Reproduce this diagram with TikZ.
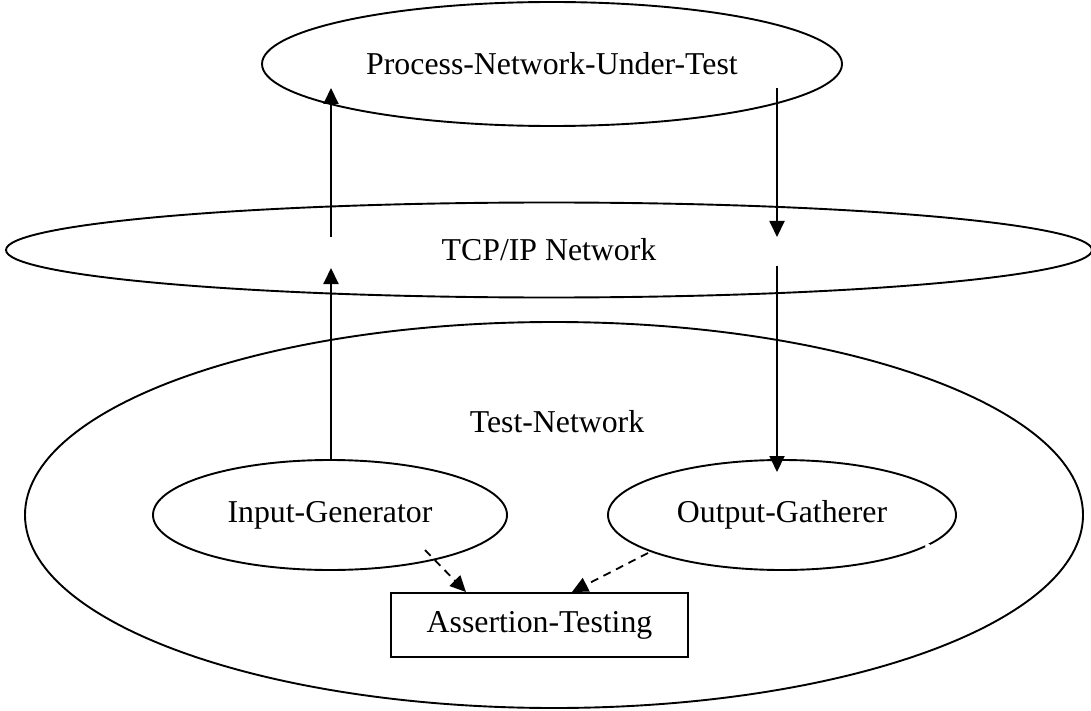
\documentclass[tikz,border=0pt]{standalone}
\usepackage{fontspec}
\setmainfont{Liberation Serif}
\usetikzlibrary{shapes.geometric,arrows.meta}
\begin{document}
\begin{tikzpicture}[x=1pt,y=-1pt,
  every node/.style={font=\fontsize{31.8}{36}\selectfont, inner sep=0pt},
  oval/.style={ellipse, draw, line width=1.9pt},
  flow/.style={line width=1.9pt, -{Triangle[length=16pt,width=15pt]}},
  dflow/.style={line width=1.8pt, dash pattern=on 8pt off 6pt, -{Triangle[length=16pt,width=15pt]}},
  ]
\useasboundingbox (0,0) rectangle (1091,711);
\node[oval, minimum width=580pt, minimum height=124pt] (punt) at (552,64) {Process-Network-Under-Test};
\node[oval, minimum width=1086pt, minimum height=95pt] (tcp) at (549,250) {TCP/IP Network};
\node[oval, minimum width=1058pt, minimum height=386pt] (tn) at (554,515) {};
\node (tnlabel) at (557,422) {Test-Network};
\node[oval, minimum width=354pt, minimum height=110pt] (ig) at (330,515) {Input-Generator};
\node[oval, minimum width=348pt, minimum height=110pt] (og) at (782,515) {Output-Gatherer};
\node[draw, line width=1.9pt, minimum width=297pt, minimum height=64pt] (at) at (539.5,625) {Assertion-Testing};
% small break in the Output-Gatherer outline
\fill[white] (og.-12) circle[radius=2.6pt];
% connector end points
\coordinate (l0) at (331,460);
\coordinate (l1) at (331,268);
\coordinate (l2) at (331,237);
\coordinate (l3) at (331,88);
\coordinate (r0) at (777,88);
\coordinate (r1) at (777,237);
\coordinate (r2) at (777,266);
\coordinate (r3) at (777,472);
\coordinate (d1s) at (425,550);
\coordinate (d1e) at (466,592);
\coordinate (d2s) at (648,553);
\coordinate (d2e) at (572,592);
\draw[flow] (l0) -- (l1);
\draw[flow] (l2) -- (l3);
\draw[flow] (r0) -- (r1);
\draw[flow] (r2) -- (r3);
\draw[dflow] (d1s) -- (d1e);
\draw[dflow] (d2s) -- (d2e);
\end{tikzpicture}
\end{document}
